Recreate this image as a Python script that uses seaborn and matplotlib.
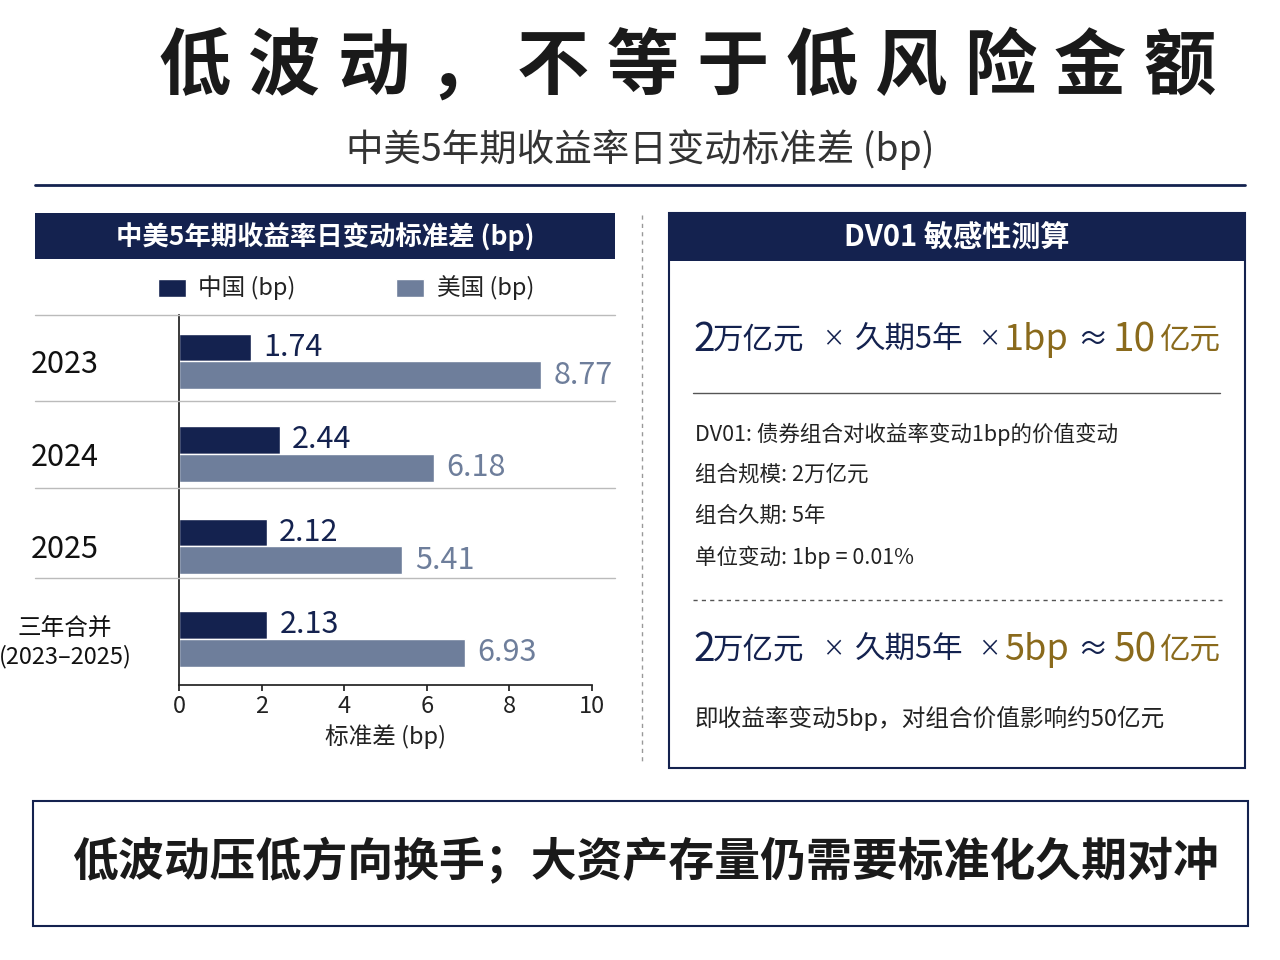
import matplotlib
matplotlib.use("Agg")
import matplotlib.pyplot as plt
import seaborn as sns
import pandas as pd
from matplotlib.patches import Rectangle
from matplotlib.lines import Line2D

categories = ["2023", "2024", "2025", "三年合并\n(2023–2025)"]
china = [1.74, 2.44, 2.12, 2.13]
usa = [8.77, 6.18, 5.41, 6.93]
series = ["中国 (bp)", "美国 (bp)"]
xticks = [0, 2, 4, 6, 8, 10]

sns.set_theme(style="white")
plt.rcParams['font.family'] = ['Noto Sans CJK SC', 'DejaVu Sans']

NAVY = "#14224f"
GREY = "#6e7e9b"
GOLD = "#8a6a1c"

fig = plt.figure(figsize=(12.8, 9.6), dpi=100)
W, H = 1280, 960
def fx(x): return x / W
def fy(y): return 1 - y / H

def rect(x0, y0, x1, y1, **kw):
    fig.add_artist(Rectangle((fx(x0), fy(y1)), fx(x1) - fx(x0), fy(y0) - fy(y1),
                             transform=fig.transFigure, **kw))
def hline(x0, x1, y, **kw):
    fig.add_artist(Line2D([fx(x0), fx(x1)], [fy(y), fy(y)], transform=fig.transFigure, **kw))

# Titles (spaced characters)
title = "低波动，不等于低风险金额"
for i, ch in enumerate(title):
    fig.text(fx(195 + i * 89.5), fy(68), ch, ha="center", va="center",
             fontsize=52, fontweight="bold", color="#1a1a1a")
fig.text(0.5, fy(150), "中美5年期收益率日变动标准差 (bp)", ha="center", va="center",
         fontsize=27, color="#333333")
hline(35, 1245, 185, color=NAVY, lw=2)

# Left panel header
rect(35, 213, 615, 259, facecolor=NAVY, edgecolor="none")
fig.text(fx(325), fy(237), "中美5年期收益率日变动标准差 (bp)", ha="center", va="center",
         fontsize=19, fontweight="bold", color="white")

# Legend
rect(158, 279, 186, 297, facecolor=NAVY)
fig.text(fx(198), fy(288), series[0], va="center", fontsize=17, color="#222")
rect(396, 279, 424, 297, facecolor=GREY)
fig.text(fx(437), fy(288), series[1], va="center", fontsize=17, color="#222")

# Row separators
for y in [315, 401, 488, 578]:
    hline(35, 615, y, color="#bbbbbb", lw=1)

df = pd.DataFrame({
    "cat": categories * 2,
    "val": china + usa,
    "series": [series[0]] * 4 + [series[1]] * 4,
})
ax = fig.add_axes([fx(179), fy(685), fx(592) - fx(179), fy(315) - fy(685)])
sns.barplot(data=df, y="cat", x="val", hue="series", orient="h",
            palette=[NAVY, GREY], ax=ax, width=0.6, legend=False, saturation=1)
ax.set_xlim(0, 10)
ax.set_xticks(xticks)
ax.set_xticklabels([str(t) for t in xticks], fontsize=17, color="#222")
ax.set_ylabel("")
ax.set_xlabel("标准差 (bp)", fontsize=17, color="#222")
ax.set_yticks(range(4))
ylabels = ax.set_yticklabels(categories, color="#111")
for i, t in enumerate(ylabels):
    t.set_fontsize(22 if i < 3 else 17)
ax.tick_params(axis="y", pad=82, length=0)
for t in ylabels:
    t.set_horizontalalignment("center")
for s in ["top", "right"]:
    ax.spines[s].set_visible(False)
ax.spines["left"].set_color("#222")
ax.spines["bottom"].set_color("#222")
ax.tick_params(axis="x", length=4, color="#222", bottom=True)
for bars, vals, col in [(ax.containers[0], china, NAVY), (ax.containers[1], usa, GREY)]:
    for b, v in zip(bars, vals):
        ax.text(b.get_width() + 0.3, b.get_y() + b.get_height() / 2, f"{v:.2f}",
                va="center", ha="left", fontsize=22, color=col)

# Divider
fig.add_artist(Line2D([fx(642), fx(642)], [fy(215), fy(765)], transform=fig.transFigure,
                      color="#999", lw=1, ls=(0, (3, 3))))

# Right panel
rect(669, 213, 1245, 768, facecolor="white", edgecolor=NAVY, lw=1.5)
rect(669, 213, 1245, 261, facecolor=NAVY, edgecolor="none")
fig.text(fx(957), fy(237), "DV01 敏感性测算", ha="center", va="center",
         fontsize=21, fontweight="bold", color="white")

def formula(y, bp, res):
    parts = [("2", NAVY, 28, 693), ("万亿元", NAVY, 22, 713), ("×", NAVY, 16, 822),
             ("久期5年", NAVY, 22, 855), ("×", NAVY, 16, 978), (bp, GOLD, 26, 1004),
             ("≈", NAVY, 22, 1077), (res[0], GOLD, 28, 1113), (res[1], GOLD, 22, 1159)]
    for txt, c, fs, x in parts:
        fig.text(fx(x), fy(y), txt, va="center", ha="left", fontsize=fs, color=c)

formula(340, "1bp", ("10", "亿元"))
hline(693, 1220, 393, color="#555", lw=1)
lines = ["DV01: 债券组合对收益率变动1bp的价值变动", "组合规模: 2万亿元",
         "组合久期: 5年", "单位变动: 1bp = 0.01%"]
for i, l in enumerate(lines):
    fig.text(fx(695), fy(434 + 41 * i), l, va="center", fontsize=15.5, color="#222")
fig.add_artist(Line2D([fx(693), fx(1222)], [fy(600), fy(600)], transform=fig.transFigure,
                      color="#555", lw=1, ls=(0, (3, 3))))
formula(650, "5bp", ("50", "亿元"))
fig.text(fx(695), fy(718), "即收益率变动5bp，对组合价值影响约50亿元", va="center",
         fontsize=17, color="#222")

# Bottom box
rect(33, 801, 1248, 926, facecolor="white", edgecolor=NAVY, lw=1.5)
fig.text(fx(645), fy(863), "低波动压低方向换手；大资产存量仍需要标准化久期对冲",
         ha="center", va="center", fontsize=33, fontweight="bold", color="#1a1a1a")

fig.savefig("out.png", dpi=100, facecolor="white")
